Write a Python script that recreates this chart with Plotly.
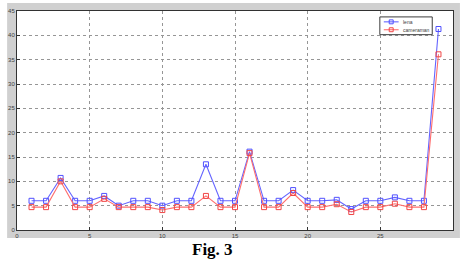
import plotly.graph_objects as go

x_vals = list(range(1, 30))
lena = [6, 6, 10.7, 6, 6, 7, 5, 6, 6, 5, 6, 6, 13.5, 6, 6, 16.1, 6, 6, 8.2, 6, 6, 6.2, 4.3, 6, 6, 6.7, 6, 6, 41.3]
cameraman = [4.7, 4.7, 10, 4.7, 4.7, 6.4, 4.7, 4.7, 4.7, 4.1, 4.7, 4.7, 7, 4.7, 4.7, 15.8, 4.7, 4.7, 7.6, 4.7, 4.7, 5.3, 3.7, 4.7, 4.7, 5.4, 4.7, 4.7, 36.1]
series_names = ["lena", "cameraman"]
x_ticks = [0, 5, 10, 15, 20, 25]
y_ticks = [0, 5, 10, 15, 20, 25, 30, 35, 40, 45]

W, H = 463, 272
ml, mr, mt, mb = 12, 10, 8, 42
pw, ph = W - ml - mr, H - mt - mb

def px_x(p):
    return (p - ml) / pw

def px_y(p):
    return (H - mb - p) / ph

line_cols = ["rgb(100,100,255)", "rgb(255,110,110)"]
mark_cols = ["rgb(80,80,255)", "rgb(240,70,70)"]

fig = go.Figure()
for name, vals, lc, mc in zip(series_names, [lena, cameraman], line_cols, mark_cols):
    fig.add_trace(go.Scatter(x=x_vals, y=vals, name=name, mode="lines+markers",
                             line=dict(color=lc, width=1.1),
                             marker=dict(symbol="square-open", size=5, color=mc)))

fig.add_shape(type="rect", xref="paper", yref="paper", layer="below",
              x0=px_x(2), x1=px_x(460), y0=px_y(238), y1=px_y(0),
              fillcolor="rgb(208,208,208)", line=dict(width=0))
fig.add_shape(type="rect", xref="paper", yref="paper", layer="below",
              x0=0, x1=1, y0=0, y1=1, fillcolor="white", line=dict(width=0))

# legend box
fig.add_shape(type="rect", xref="paper", yref="paper",
              x0=px_x(379), x1=px_x(432), y0=px_y(32), y1=px_y(14),
              fillcolor="white", line=dict(color="rgb(60,60,60)", width=1))
for i, (name, lc, mc) in enumerate(zip(series_names, line_cols, mark_cols)):
    yy = 19 + i * 8
    fig.add_shape(type="line", xref="paper", yref="paper",
                  x0=px_x(383), x1=px_x(398), y0=px_y(yy), y1=px_y(yy),
                  line=dict(color=lc, width=1.1))
    fig.add_shape(type="rect", xref="paper", yref="paper",
                  x0=px_x(388.5), x1=px_x(392.5), y0=px_y(yy + 2), y1=px_y(yy - 2),
                  line=dict(color=mc, width=1))
    fig.add_annotation(text=name, xref="paper", yref="paper",
                       x=px_x(400), y=px_y(yy), xanchor="left", yanchor="middle",
                       showarrow=False,
                       font=dict(family="Liberation Sans", size=5, color="rgb(60,60,60)"))

fig.add_annotation(text="<b>Fig. 3</b>", xref="paper", yref="paper",
                   x=px_x(210), y=px_y(250), xanchor="center", yanchor="middle",
                   showarrow=False,
                   font=dict(family="Liberation Serif", size=17, color="black"))

fig.update_layout(
    width=W, height=H, margin=dict(l=ml, r=mr, t=mt, b=mb),
    paper_bgcolor="white", plot_bgcolor="white",
    showlegend=False,
    font=dict(family="Liberation Sans", size=6, color="rgb(60,60,60)"),
)
fig.update_xaxes(range=[0, 30], tickvals=x_ticks, showgrid=True,
                 gridcolor="rgb(150,150,150)", griddash="dot", gridwidth=0.8,
                 showline=True, linecolor="rgb(50,50,50)", linewidth=1, mirror=True,
                 zeroline=False, ticks="inside", ticklen=3, tickcolor="rgb(50,50,50)",
                 tickfont=dict(size=6))
fig.update_yaxes(range=[0, 45], tickvals=y_ticks, showgrid=True,
                 gridcolor="rgb(150,150,150)", griddash="dot", gridwidth=0.8,
                 showline=True, linecolor="rgb(50,50,50)", linewidth=1, mirror=True,
                 zeroline=False, ticks="inside", ticklen=3, tickcolor="rgb(50,50,50)",
                 tickfont=dict(size=6))

fig.write_html("out.html")
